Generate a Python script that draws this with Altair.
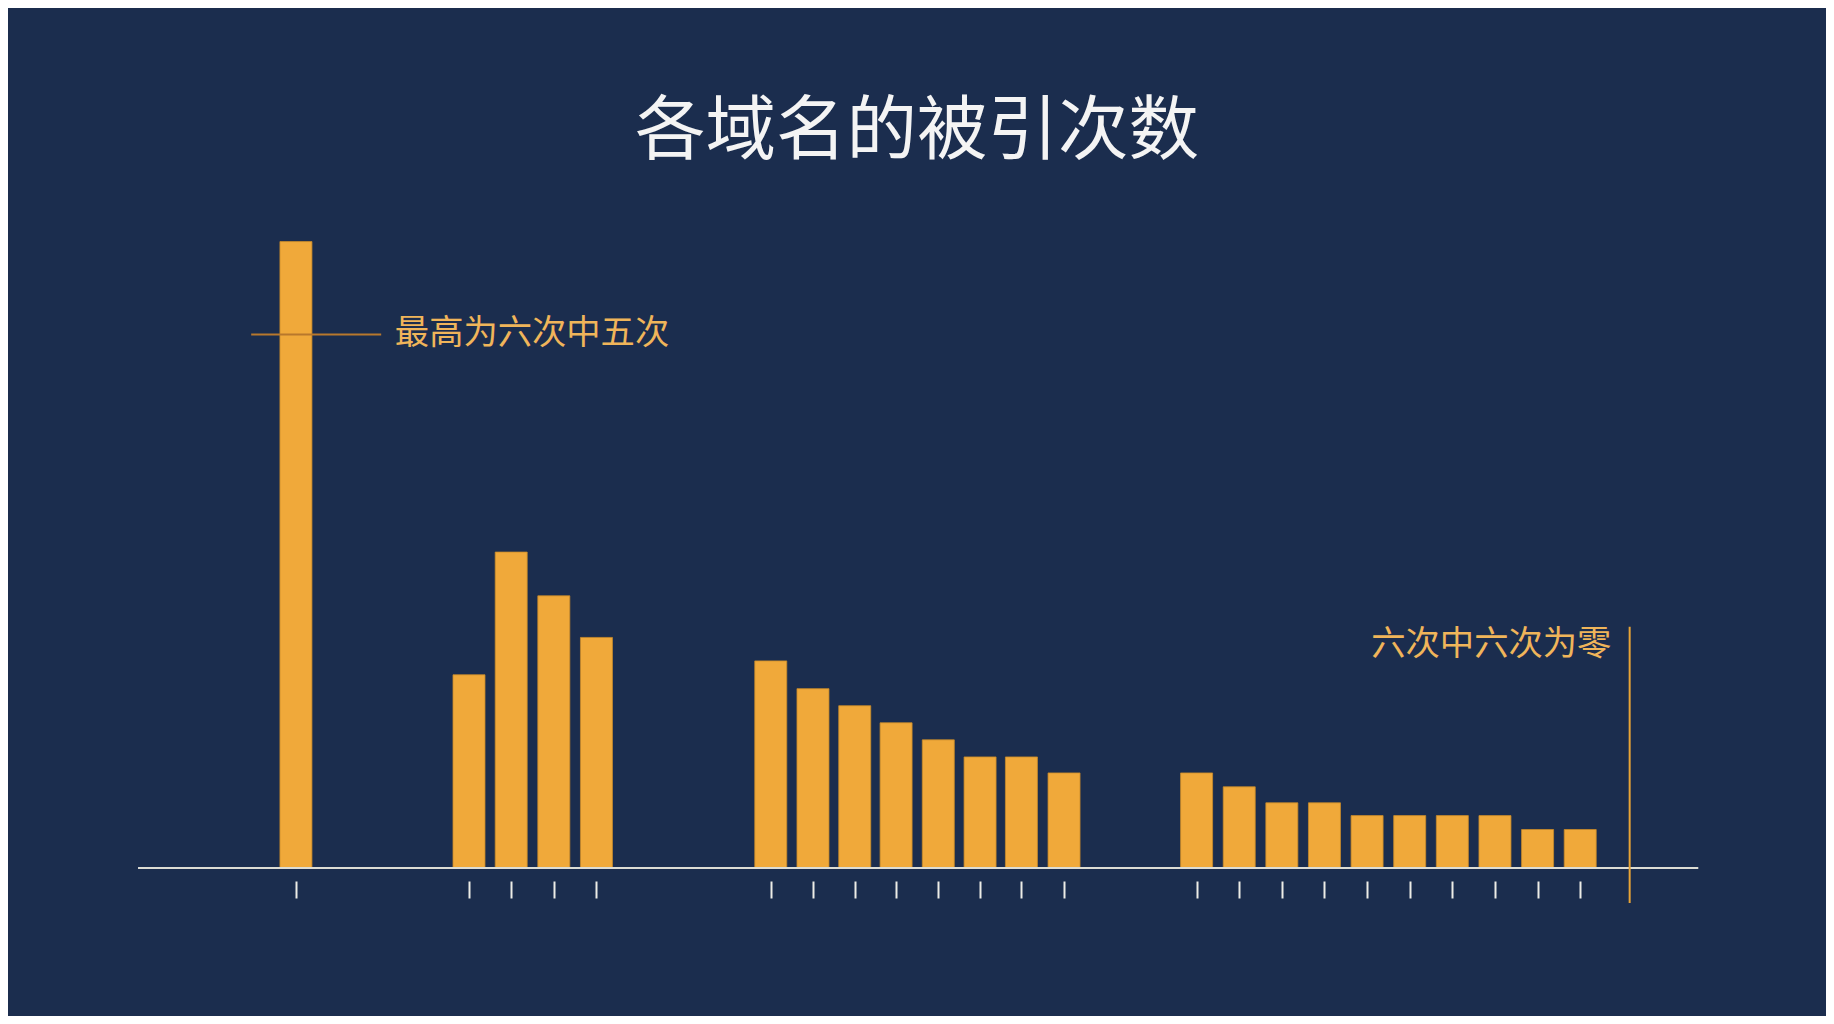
import altair as alt
import pandas as pd

# Bar slot positions along the axis (groups separated by gaps) and heights
positions = [0, 4.06, 5.05, 6.05, 7.05,
             11.14, 12.13, 13.11, 14.08, 15.07, 16.05, 17.02, 18.02,
             21.13, 22.13, 23.13, 24.13, 25.13, 26.13, 27.13, 28.13, 29.13, 30.13]
values = [5.87, 1.81, 2.96, 2.55, 2.16,
          1.94, 1.68, 1.52, 1.36, 1.20, 1.04, 1.04, 0.89,
          0.89, 0.76, 0.61, 0.61, 0.49, 0.49, 0.49, 0.49, 0.36, 0.36]

title_text = "各域名的被引次数"
note_max = "最高为六次中五次"
note_zero = "六次中六次为零"
note_max_level = 5
zero_marker_x = 31.29

BG = "#1b2d4e"
BAR = "#f0a93a"
ORANGE_TEXT = "#f0b55a"

W, H = 1818, 1008
XDOM = [-6.638, 35.779]
YDOM = [-1.388, 8.059]

df = pd.DataFrame({"pos": positions, "value": values})

xs = alt.Scale(domain=XDOM, nice=False, zero=False)
ys = alt.Scale(domain=YDOM, nice=False, zero=False)

bars = alt.Chart(df).mark_bar(size=32, color=BAR, stroke="#c88a2a", strokeWidth=0.8).encode(
    x=alt.X("pos:Q", scale=xs,
            axis=alt.Axis(values=positions, offset=-135, domain=False, labels=False,
                          grid=False, tickSize=17, tickWidth=2, tickColor="#ececE6",
                          title=None)),
    y=alt.Y("value:Q", scale=ys, axis=None),
)

base_df = pd.DataFrame({"x1": [-3.705], "x2": [32.9], "y": [0]})
baseline = alt.Chart(base_df).mark_rule(color="#dcdcd4", strokeWidth=2).encode(
    x=alt.X("x1:Q", scale=xs), x2="x2:Q", y=alt.Y("y:Q", scale=ys)
)

max_df = pd.DataFrame({"x1": [-1.05], "x2": [2.0], "y": [note_max_level]})
max_line = alt.Chart(max_df).mark_rule(color="#b8782c", strokeWidth=2).encode(
    x=alt.X("x1:Q", scale=xs), x2="x2:Q", y=alt.Y("y:Q", scale=ys)
)

zero_df = pd.DataFrame({"x": [zero_marker_x], "y1": [2.26], "y2": [-0.33]})
zero_line = alt.Chart(zero_df).mark_rule(color="#e8a436", strokeWidth=2).encode(
    x=alt.X("x:Q", scale=xs), y=alt.Y("y1:Q", scale=ys), y2="y2:Q"
)

txt_df = pd.DataFrame({"x": [2.32], "y": [note_max_level], "t": [note_max]})
txt_max = alt.Chart(txt_df).mark_text(
    align="left", baseline="middle", fontSize=34.3, color=ORANGE_TEXT,
    font="Noto Sans CJK SC"
).encode(x=alt.X("x:Q", scale=xs), y=alt.Y("y:Q", scale=ys), text="t:N")

txt2_df = pd.DataFrame({"x": [30.86], "y": [2.09], "t": [note_zero]})
txt_zero = alt.Chart(txt2_df).mark_text(
    align="right", baseline="middle", fontSize=34.3, color=ORANGE_TEXT,
    font="Noto Sans CJK SC"
).encode(x=alt.X("x:Q", scale=xs), y=alt.Y("y:Q", scale=ys), text="t:N")

title_df = pd.DataFrame({"t": [title_text]})
title = alt.Chart(title_df).mark_text(
    align="center", baseline="middle", fontSize=70.5, color="#f4f4f4",
    font="Noto Sans CJK SC"
).encode(x=alt.value(W / 2), y=alt.value(125), text="t:N")

chart = alt.layer(bars, baseline, max_line, zero_line, txt_max, txt_zero, title).properties(
    width=W, height=H, background=BG, padding=0,
    autosize=alt.AutoSizeParams(type="none")
).configure_view(stroke=None)

chart.save("out.html", embed_options={"renderer": "svg", "actions": False})
